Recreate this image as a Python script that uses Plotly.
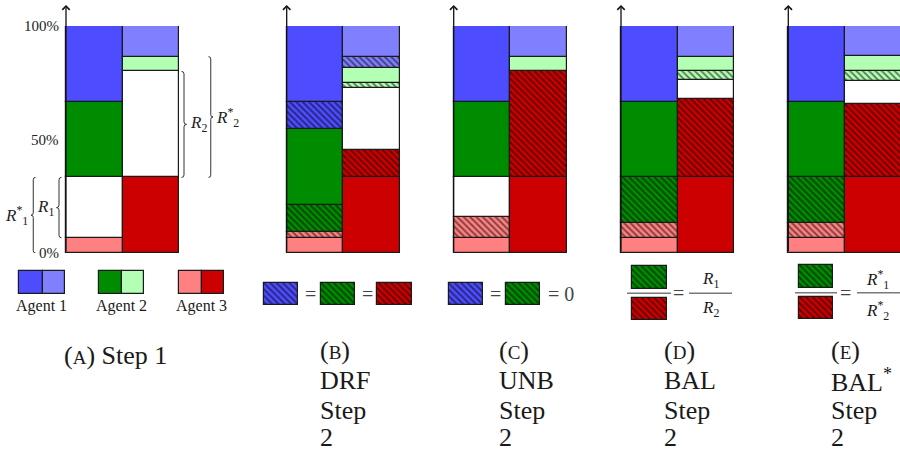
import numpy as np
import plotly.graph_objects as go

FIG_W, FIG_H = 900, 460
SERIF = "Liberation Serif"

# fill colour of each agent on resource 1 and on resource 2
R1_COLOR = {"a1": "#4D4DFF", "a2": "#008C00", "a3": "#FF8080", "free": "#FFFFFF"}
R2_COLOR = {"a1": "#8080FF", "a2": "#B3FFB3", "a3": "#CC0000", "free": "#FFFFFF"}

# ---- allocations, listed bottom to top, in % of each resource ----------
# a kind ending in "h" is a share granted in step 2 (drawn hatched)
step1_r1_kind = ["a3", "free", "a2", "a1"]
step1_r1_pct = [6.7, 26.6, 33.3, 33.4]
step1_r2_kind = ["a3", "free", "a2", "a1"]
step1_r2_pct = [33.3, 46.7, 6.5, 13.5]

drf_r1_kind = ["a3", "a3h", "a2h", "a2", "a1h", "a1"]
drf_r1_pct = [6.7, 2.5, 12.1, 33.3, 12.1, 33.3]
drf_r2_kind = ["a3", "a3h", "free", "a2h", "a2", "a1h", "a1"]
drf_r2_pct = [33.3, 12.1, 27.2, 2.5, 6.6, 4.8, 13.5]

unb_r1_kind = ["a3", "a3h", "free", "a2", "a1"]
unb_r1_pct = [6.7, 9.3, 17.3, 33.3, 33.4]
unb_r2_kind = ["a3", "a3h", "a2", "a1"]
unb_r2_pct = [33.3, 46.7, 6.5, 13.5]

bal_r1_kind = ["a3", "a3h", "a2h", "a2", "a1"]
bal_r1_pct = [6.7, 6.5, 20.1, 33.3, 33.4]
bal_r2_kind = ["a3", "a3h", "free", "a2h", "a2", "a1"]
bal_r2_pct = [33.3, 34.5, 8.2, 4.0, 6.5, 13.5]

bals_r1_kind = ["a3", "a3h", "a2h", "a2", "a1"]
bals_r1_pct = [6.7, 6.3, 20.3, 33.3, 33.4]
bals_r2_kind = ["a3", "a3h", "free", "a2h", "a2", "a1"]
bals_r2_pct = [33.3, 32.5, 10.0, 4.2, 6.6, 13.4]

tick_vals = [0, 50, 100]
tick_text = ["0%", "50%", "100%"]

caption_tags = ["A", "B", "C", "D", "E"]
caption_lines = [["Step 1"], ["DRF", "Step", "2"], ["UNB", "Step", "2"],
                 ["BAL", "Step", "2"], ["BAL*", "Step", "2"]]
agent_names = ["Agent 1", "Agent 2", "Agent 3"]

# ---- page layout (pixels) ----------------------------------------------
Y_TOP, Y_BOT = 26, 253                      # 100 % and 0 % rows
COL_PX = 56.6                               # width of one resource column
panel_left = [66, 286.7, 453.7, 621, 788.3]  # x of each vertical axis
panel_dom = [(0, 240), (284, 403), (451, 570), (618, 737), (786, 900)]

panels = [
    (step1_r1_kind, step1_r1_pct, step1_r2_kind, step1_r2_pct),
    (drf_r1_kind, drf_r1_pct, drf_r2_kind, drf_r2_pct),
    (unb_r1_kind, unb_r1_pct, unb_r2_kind, unb_r2_pct),
    (bal_r1_kind, bal_r1_pct, bal_r2_kind, bal_r2_pct),
    (bals_r1_kind, bals_r1_pct, bals_r2_kind, bals_r2_pct),
]

EDGE = dict(color="#1a1a1a", width=1.2)


def px_to_unit(i, px):
    return -0.5 + (px - panel_left[i]) / COL_PX


def fill(kind, col):
    cmap = R1_COLOR if col == 0 else R2_COLOR
    hatched = kind.endswith("h")
    color = cmap[kind.rstrip("h")]
    marker = dict(color=color, line=EDGE)
    if hatched:
        marker["pattern"] = dict(shape="\\", fgcolor="#000000", bgcolor=color,
                                 size=4.5, solidity=0.4, fillmode="overlay")
    return marker


fig = go.Figure()
layout_axes = {}
for i, (k1, p1, k2, p2) in enumerate(panels):
    xa = "x" if i == 0 else f"x{i + 1}"
    ya = "y" if i == 0 else f"y{i + 1}"
    for col, (kinds, pcts) in enumerate([(k1, p1), (k2, p2)]):
        pcts = np.asarray(pcts, dtype=float)
        bases = np.concatenate([[0.0], np.cumsum(pcts)[:-1]])
        for kind, h, b in zip(kinds, pcts, bases):
            fig.add_trace(go.Bar(x=[col], y=[h], base=[b], width=[1.0],
                                 marker=fill(kind, col), xaxis=xa, yaxis=ya,
                                 showlegend=False, hoverinfo="skip"))
    d0, d1 = panel_dom[i]
    key = "" if i == 0 else str(i + 1)
    layout_axes["xaxis" + key] = dict(
        domain=[d0 / FIG_W, d1 / FIG_W],
        range=[px_to_unit(i, d0), px_to_unit(i, d1)],
        visible=False, anchor=ya, fixedrange=True)
    layout_axes["yaxis" + key] = dict(
        domain=[1 - Y_BOT / FIG_H, 1 - Y_TOP / FIG_H], range=[0, 100],
        visible=False, anchor=xa, fixedrange=True)

# ---- legend swatches on a page-sized overlay axis ----------------------
layout_axes["xaxis6"] = dict(domain=[0, 1], range=[0, FIG_W], visible=False,
                             anchor="y6", fixedrange=True)
layout_axes["yaxis6"] = dict(domain=[0, 1], range=[FIG_H, 0], visible=False,
                             anchor="x6", fixedrange=True)

# (left, top, right, bottom, resource column, kind)
swatches = [
    (19.3, 271, 42.7, 293.7, 0, "a1"), (42.7, 271, 65.3, 293.7, 1, "a1"),
    (99.3, 271, 122, 293.7, 0, "a2"), (122, 271, 144.3, 293.7, 1, "a2"),
    (179, 271, 201.7, 293.7, 0, "a3"), (201.7, 271, 224, 293.7, 1, "a3"),
    (264, 283, 298, 305, 0, "a1h"), (321, 283, 355, 305, 0, "a2h"),
    (377, 283, 412, 305, 1, "a3h"),
    (449, 283, 483, 305, 0, "a1h"), (506, 283, 540, 305, 0, "a2h"),
    (632, 266, 667, 289, 0, "a2h"), (632, 298, 667, 320, 1, "a3h"),
    (799, 265, 833, 288, 0, "a2h"), (799, 297, 833, 319, 1, "a3h"),
]
for l, t, r, b, col, kind in swatches:
    fig.add_trace(go.Bar(x=[(l + r) / 2], y=[b - t], base=[t], width=[r - l],
                         marker=fill(kind, col), xaxis="x6", yaxis="y6",
                         showlegend=False, hoverinfo="skip"))

annotations = []
shapes = []


def paper_text(x, y, text, size, xanchor="center", color="#1a1a1a"):
    annotations.append(dict(x=x / FIG_W, y=1 - y / FIG_H, xref="paper",
                            yref="paper", text=text, showarrow=False,
                            xanchor=xanchor, yanchor="middle",
                            font=dict(family=SERIF, size=size, color=color)))


# vertical axes with arrow tips
for left in panel_left:
    annotations.append(dict(x=left / FIG_W, y=1 - 5 / FIG_H, xref="paper",
                            yref="paper", ax=0, ay=Y_BOT - 5, axref="pixel",
                            ayref="pixel", text="", showarrow=True,
                            arrowhead=4, arrowsize=1.1, arrowwidth=1.3,
                            arrowcolor="#111111", standoff=0))

# tick labels of the step-1 panel
for v, t in zip(tick_vals, tick_text):
    annotations.append(dict(x=px_to_unit(0, 60.5), y=v, xref="x", yref="y",
                            text=t, showarrow=False, xanchor="right",
                            yanchor="middle",
                            font=dict(family=SERIF, size=15, color="#222")))

# curly braces marking the free room on each resource
PX_PER_PCT = (Y_BOT - Y_TOP) / 100.0


def brace(y_lo, y_hi, end_px, tip_px):
    xe, xt = px_to_unit(0, end_px), px_to_unit(0, tip_px)
    xm = (xe + xt) / 2
    ym = (y_lo + y_hi) / 2
    ry = abs(tip_px - end_px) / 2 / PX_PER_PCT
    return (f"M{xe},{y_hi} Q{xm},{y_hi} {xm},{y_hi - ry} L{xm},{ym + ry} "
            f"Q{xm},{ym} {xt},{ym} Q{xm},{ym} {xm},{ym - ry} "
            f"L{xm},{y_lo + ry} Q{xm},{y_lo} {xe},{y_lo}")


r1_top = sum(step1_r1_pct[:2])
r1_free_lo = step1_r1_pct[0]
r2_lo = step1_r2_pct[0]
r2_hi = sum(step1_r2_pct[:2])
r2s_hi = sum(step1_r2_pct[:3])

braces = [
    (r1_free_lo, r1_top, 61.5, 56.5, "<i>R</i><sub>1</sub>", "right"),
    (0, r1_top, 35.5, 31, "<i>R</i><sup>*</sup><sub>1</sub>", "right"),
    (r2_lo, r2_hi, 181.5, 186.5, "<i>R</i><sub>2</sub>", "left"),
    (r2_lo, r2s_hi, 208.5, 213, "<i>R</i><sup>*</sup><sub>2</sub>", "left"),
]
for lo, hi, e, t, label, side in braces:
    shapes.append(dict(type="path", path=brace(lo, hi, e, t), xref="x",
                       yref="y", line=dict(color="#333333", width=1)))
    lx = t - 1 if side == "right" else t + 1
    annotations.append(dict(x=px_to_unit(0, lx), y=(lo + hi) / 2, xref="x",
                            yref="y", text=label, showarrow=False,
                            xanchor=side, yanchor="middle",
                            font=dict(family=SERIF, size=17, color="#222")))

# agent names under the step-1 swatches
for name, cx in zip(agent_names, [41.5, 121.7, 201.2]):
    paper_text(cx, 306, name, 16)

# relations between the hatched shares
paper_text(310, 294, "=", 20, color="#444")
paper_text(367, 294, "=", 20, color="#444")
paper_text(495, 294, "=", 20, color="#444")
paper_text(546, 294, "= 0", 20, xanchor="left", color="#444")
paper_text(678, 293, "=", 20, color="#444")
paper_text(845, 293, "=", 20, color="#444")
paper_text(710, 280, "<i>R</i><sub>1</sub>", 17)
paper_text(710, 309, "<i>R</i><sub>2</sub>", 17)
paper_text(877, 279, "<i>R</i><sup>*</sup><sub>1</sub>", 17)
paper_text(877, 310, "<i>R</i><sup>*</sup><sub>2</sub>", 17)

GRAY_LINE = dict(color="#7a7a7a", width=1.6)
for x0, x1, y in [(627, 671, 293.3), (689, 732, 293.3),
                  (795, 837, 292.8), (857, 900, 292.8)]:
    shapes.append(dict(type="line", xref="paper", yref="paper",
                       x0=x0 / FIG_W, x1=x1 / FIG_W, y0=1 - y / FIG_H,
                       y1=1 - y / FIG_H, line=GRAY_LINE))

# sub-figure captions
CAP_SIZE = 26
cap_x = [62, 318, 497, 662, 829]
row_y = [350, 380, 410, 437]
for i, (tag, lines) in enumerate(zip(caption_tags, caption_lines)):
    head = f"(<span style=\"font-size:19px\">{tag}</span>)"
    if i == 0:
        paper_text(cap_x[i], 355, head + " " + lines[0], CAP_SIZE,
                   xanchor="left")
        continue
    paper_text(cap_x[i], row_y[0], head, CAP_SIZE, xanchor="left")
    for j, line in enumerate(lines):
        txt = line.replace("*", "<sup>*</sup>")
        paper_text(cap_x[i], row_y[j + 1], txt, CAP_SIZE, xanchor="left")

fig.update_layout(
    width=FIG_W, height=FIG_H, margin=dict(l=0, r=0, t=0, b=0),
    paper_bgcolor="white", plot_bgcolor="rgba(0,0,0,0)",
    barmode="overlay", bargap=0, showlegend=False,
    annotations=annotations, shapes=shapes, **layout_axes)

fig.write_html("out.html")
